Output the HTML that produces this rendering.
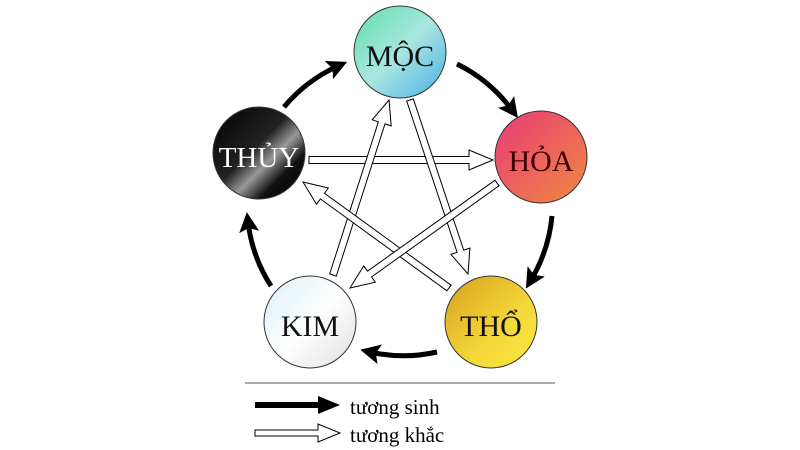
<!DOCTYPE html>
<html><head><meta charset="utf-8"><style>
html,body{margin:0;padding:0;background:#fff;width:800px;height:450px;overflow:hidden}
text{font-family:"Liberation Serif",serif}
</style></head><body>
<svg id="s" width="800" height="450" viewBox="0 0 800 450" xmlns="http://www.w3.org/2000/svg">
<defs>
<marker id="ah" markerWidth="4" markerHeight="4" refX="2" refY="2" orient="auto" markerUnits="strokeWidth">
<path d="M0,0 L4,2 L0,4 L0.8,2 Z" fill="#000"/></marker>
<linearGradient id="gm" x1="0" y1="0" x2="1" y2="1"><stop offset="0" stop-color="#5fe0a8"/><stop offset="0.5" stop-color="#a8e6e0"/><stop offset="1" stop-color="#4aaee8"/></linearGradient>
<linearGradient id="gh" x1="0" y1="0" x2="1" y2="1"><stop offset="0" stop-color="#e83a78"/><stop offset="1" stop-color="#f08a40"/></linearGradient>
<linearGradient id="gt" x1="0" y1="0" x2="1" y2="1"><stop offset="0" stop-color="#000"/><stop offset="0.45" stop-color="#222"/><stop offset="0.6" stop-color="#999"/><stop offset="0.75" stop-color="#111"/><stop offset="1" stop-color="#000"/></linearGradient>
<linearGradient id="gk" x1="0" y1="0" x2="1" y2="1"><stop offset="0" stop-color="#d8eef8"/><stop offset="0.5" stop-color="#fff"/><stop offset="1" stop-color="#e0e0e0"/></linearGradient>
<linearGradient id="go" x1="0" y1="0" x2="1" y2="1"><stop offset="0" stop-color="#d8a020"/><stop offset="0.6" stop-color="#f4d838"/><stop offset="1" stop-color="#f8e840"/></linearGradient>
</defs>
<g fill="none" stroke="#000" stroke-width="5" marker-end="url(#ah)">
<path d="M457,64 A152,152 0 0 1 512,110"/>
<path d="M552,216 A152,152 0 0 1 531,280"/>
<path d="M437,352 A152,152 0 0 1 370,352"/>
<path d="M271,286 A152,152 0 0 1 248,222"/>
<path d="M284,107 A152,152 0 0 1 338,66"/>
</g>
<g id="k" fill="#fff" stroke="#000" stroke-width="1"></g>
<circle cx="400" cy="52" r="46" fill="url(#gm)" stroke="#333"/>
<circle cx="541" cy="157" r="46" fill="url(#gh)" stroke="#333"/>
<circle cx="259" cy="153" r="46" fill="url(#gt)" stroke="#333"/>
<circle cx="310" cy="322" r="46" fill="url(#gk)" stroke="#333"/>
<circle cx="491" cy="322" r="46" fill="url(#go)" stroke="#333"/>
<g font-size="30" text-anchor="middle">
<text x="400" y="66" fill="#111">MỘC</text>
<text x="541" y="171" fill="#3a0000">HỎA</text>
<text x="259" y="167" fill="#fff" font-size="29">THỦY</text>
<text x="310" y="336" fill="#111">KIM</text>
<text x="491" y="336" fill="#111">THỔ</text>
</g>
<line x1="245" y1="383" x2="555" y2="383" stroke="#555" stroke-width="1"/>
<path d="M255,402 L318,402 L318,396 L340,405 L318,414 L318,408 L255,408 Z" fill="#000"/>
<path d="M255,430 L318,430 L318,424 L340,433 L318,442 L318,436 L255,436 Z" fill="#fff" stroke="#000"/>
<text x="350" y="414" font-size="21">tương sinh</text>
<text x="350" y="442" font-size="21">tương khắc</text>
</svg>
<script>
var arr=[[309,160,493,160],[333,275,389,100],[410,100,468,274],[449,288,303,182],[497,183,350,288]];
var g=document.getElementById('k');
arr.forEach(function(a){
var dx=a[2]-a[0],dy=a[3]-a[1],L=Math.hypot(dx,dy),ux=dx/L,uy=dy/L,nx=-uy,ny=ux;
var w=3.5,hw=10,hl=24;
function p(t,o){return (a[0]+ux*t+nx*o).toFixed(1)+','+(a[1]+uy*t+ny*o).toFixed(1);}
var pts=[p(0,w),p(L-hl,w),p(L-hl,hw),p(L,0),p(L-hl,-hw),p(L-hl,-w),p(0,-w)].join(' ');
var el=document.createElementNS('http://www.w3.org/2000/svg','polygon');
el.setAttribute('points',pts);g.appendChild(el);
});
</script>
</body></html>
